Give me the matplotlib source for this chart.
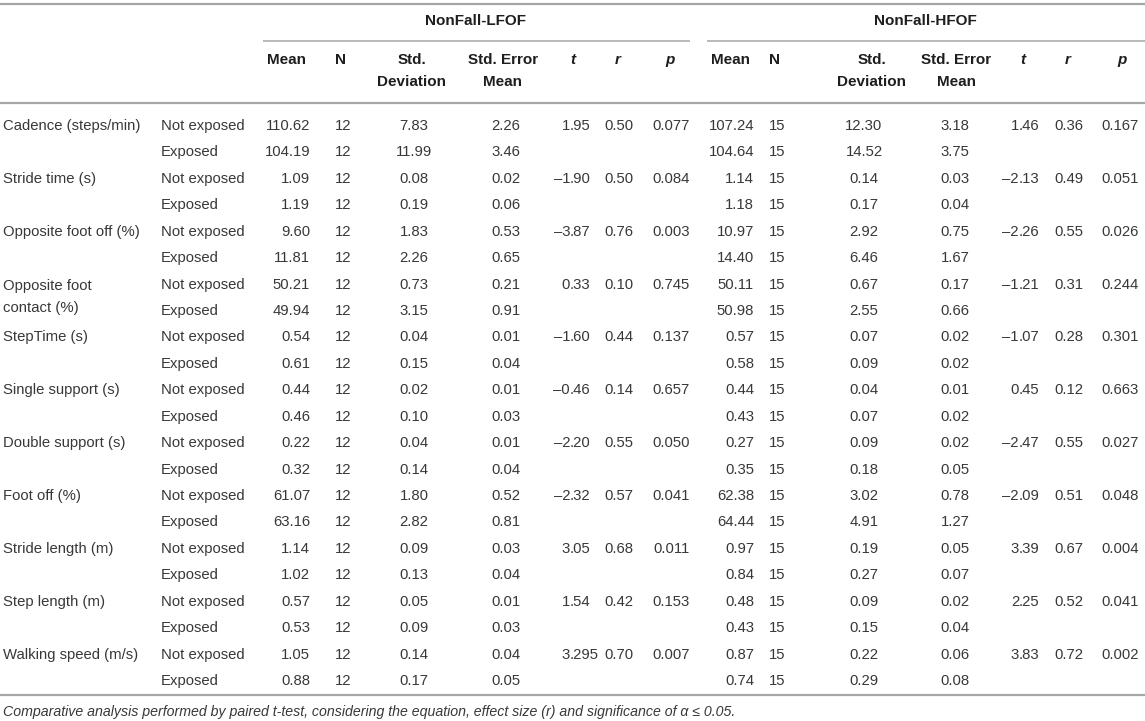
import matplotlib
matplotlib.use("Agg")
import matplotlib.pyplot as plt

plt.rcParams["font.family"] = ["Liberation Sans", "DejaVu Sans"]

DASH = "\u2013"

measures = [
    "Cadence (steps/min)",
    "Stride time (s)",
    "Opposite foot off (%)",
    "Opposite foot\ncontact (%)",
    "StepTime (s)",
    "Single support (s)",
    "Double support (s)",
    "Foot off (%)",
    "Stride length (m)",
    "Step length (m)",
    "Walking speed (m/s)",
]
conditions = ["Not exposed", "Exposed"]

# NonFall-LFOF: (mean, N, sd, se) for not exposed / exposed
lfof_ne = [
    ("110.62", "12", "7.83", "2.26"), ("1.09", "12", "0.08", "0.02"),
    ("9.60", "12", "1.83", "0.53"), ("50.21", "12", "0.73", "0.21"),
    ("0.54", "12", "0.04", "0.01"), ("0.44", "12", "0.02", "0.01"),
    ("0.22", "12", "0.04", "0.01"), ("61.07", "12", "1.80", "0.52"),
    ("1.14", "12", "0.09", "0.03"), ("0.57", "12", "0.05", "0.01"),
    ("1.05", "12", "0.14", "0.04"),
]
lfof_ex = [
    ("104.19", "12", "11.99", "3.46"), ("1.19", "12", "0.19", "0.06"),
    ("11.81", "12", "2.26", "0.65"), ("49.94", "12", "3.15", "0.91"),
    ("0.61", "12", "0.15", "0.04"), ("0.46", "12", "0.10", "0.03"),
    ("0.32", "12", "0.14", "0.04"), ("63.16", "12", "2.82", "0.81"),
    ("1.02", "12", "0.13", "0.04"), ("0.53", "12", "0.09", "0.03"),
    ("0.88", "12", "0.17", "0.05"),
]
lfof_t = ["1.95", "-1.90", "-3.87", "0.33", "-1.60", "-0.46", "-2.20", "-2.32", "3.05", "1.54", "3.295"]
lfof_r = ["0.50", "0.50", "0.76", "0.10", "0.44", "0.14", "0.55", "0.57", "0.68", "0.42", "0.70"]
lfof_p = ["0.077", "0.084", "0.003", "0.745", "0.137", "0.657", "0.050", "0.041", "0.011", "0.153", "0.007"]

# NonFall-HFOF
hfof_ne = [
    ("107.24", "15", "12.30", "3.18"), ("1.14", "15", "0.14", "0.03"),
    ("10.97", "15", "2.92", "0.75"), ("50.11", "15", "0.67", "0.17"),
    ("0.57", "15", "0.07", "0.02"), ("0.44", "15", "0.04", "0.01"),
    ("0.27", "15", "0.09", "0.02"), ("62.38", "15", "3.02", "0.78"),
    ("0.97", "15", "0.19", "0.05"), ("0.48", "15", "0.09", "0.02"),
    ("0.87", "15", "0.22", "0.06"),
]
hfof_ex = [
    ("104.64", "15", "14.52", "3.75"), ("1.18", "15", "0.17", "0.04"),
    ("14.40", "15", "6.46", "1.67"), ("50.98", "15", "2.55", "0.66"),
    ("0.58", "15", "0.09", "0.02"), ("0.43", "15", "0.07", "0.02"),
    ("0.35", "15", "0.18", "0.05"), ("64.44", "15", "4.91", "1.27"),
    ("0.84", "15", "0.27", "0.07"), ("0.43", "15", "0.15", "0.04"),
    ("0.74", "15", "0.29", "0.08"),
]
hfof_t = ["1.46", "-2.13", "-2.26", "-1.21", "-1.07", "0.45", "-2.47", "-2.09", "3.39", "2.25", "3.83"]
hfof_r = ["0.36", "0.49", "0.55", "0.31", "0.28", "0.12", "0.55", "0.51", "0.67", "0.52", "0.72"]
hfof_p = ["0.167", "0.051", "0.026", "0.244", "0.301", "0.663", "0.027", "0.048", "0.004", "0.041", "0.002"]

groups = ["NonFall-LFOF", "NonFall-HFOF"]
col_heads = ["Mean", "N", "Std.\nDeviation", "Std. Error\nMean", "t", "r", "p"]
caption = ("Comparative analysis performed by paired t-test, considering the equation, "
           "effect size (r) and significance of \u03b1 \u2264 0.05.")

W, H = 1145, 721
FS = 10.7
FS_HEAD = 11.0
BODY = "#383838"
HEAD = "#1e1e1e"
LINE = "#a6a6a6"

fig = plt.figure(figsize=(W / 100, H / 100), dpi=100)
ax = fig.add_axes([0, 0, 1, 1])
ax.set_xlim(0, W)
ax.set_ylim(H, 0)
ax.axis("off")

# layout (pixels)
y0, dy = 126, 26.43
x_lab, x_cond = 3, 161
layout = [
    dict(mean=310, n=343, sd=414, se=506, t=570, r=619, p=671,
         h=dict(mean=286, n=341, sd=412, se=503, t=573, r=618, p=670), grp=476, line=(263, 690)),
    dict(mean=754, n=777, sd=864, se=955, t=1019, r=1069, p=1120,
         h=dict(mean=731, n=775, sd=872, se=956, t=1023, r=1068, p=1122), grp=925, line=(707, 1145)),
]

# rules
ax.hlines(4, 0, W, color=LINE, lw=1.6)
ax.hlines(103, 0, W, color=LINE, lw=1.6)
ax.hlines(695, 0, W, color=LINE, lw=1.6)
for L in layout:
    ax.hlines(41, L["line"][0], L["line"][1], color=LINE, lw=1.1)

# header
keys = ["mean", "n", "sd", "se", "t", "r", "p"]
for g, L in zip(groups, layout):
    ax.text(L["grp"], 21, g, ha="center", va="center", fontsize=FS_HEAD, fontweight="bold", color=HEAD)
    for k, head in zip(keys, col_heads):
        style = "italic" if k in ("t", "r", "p") else "normal"
        for j, part in enumerate(head.split("\n")):
            ax.text(L["h"][k], 60 + 22 * j, part, ha="center", va="center", fontsize=FS_HEAD,
                    fontweight="bold", fontstyle=style, color=HEAD)


def dec_text(x, y, s):
    s = s.replace("-", DASH)
    whole, frac = s.split(".")
    ax.text(x, y, whole, ha="right", va="center", fontsize=FS, color=BODY)
    ax.text(x, y, "." + frac, ha="left", va="center", fontsize=FS, color=BODY)


blocks = [(lfof_ne, lfof_ex, lfof_t, lfof_r, lfof_p), (hfof_ne, hfof_ex, hfof_t, hfof_r, hfof_p)]
for i, name in enumerate(measures):
    ya = y0 + dy * (2 * i)
    yb = y0 + dy * (2 * i + 1)
    if "\n" in name:
        top, bot = name.split("\n")
        ax.text(x_lab, ya + 1, top, ha="left", va="center", fontsize=FS, color=BODY)
        ax.text(x_lab, yb - 3, bot, ha="left", va="center", fontsize=FS, color=BODY)
    else:
        ax.text(x_lab, ya, name, ha="left", va="center", fontsize=FS, color=BODY)
    ax.text(x_cond, ya, conditions[0], ha="left", va="center", fontsize=FS, color=BODY)
    ax.text(x_cond, yb, conditions[1], ha="left", va="center", fontsize=FS, color=BODY)
    for L, (ne, ex, tv, rv, pv) in zip(layout, blocks):
        for y, rec in ((ya, ne[i]), (yb, ex[i])):
            mean, n, sd, se = rec
            ax.text(L["mean"], y, mean, ha="right", va="center", fontsize=FS, color=BODY)
            ax.text(L["n"], y, n, ha="center", va="center", fontsize=FS, color=BODY)
            ax.text(L["sd"], y, sd, ha="center", va="center", fontsize=FS, color=BODY)
            ax.text(L["se"], y, se, ha="center", va="center", fontsize=FS, color=BODY)
        dec_text(L["t"], ya, tv[i])
        ax.text(L["r"], ya, rv[i], ha="center", va="center", fontsize=FS, color=BODY)
        ax.text(L["p"], ya, pv[i], ha="center", va="center", fontsize=FS, color=BODY)

ax.text(3, 712, caption, ha="left", va="center", fontsize=10.2, fontstyle="italic", color=BODY)

fig.savefig("out.png", dpi=100)
